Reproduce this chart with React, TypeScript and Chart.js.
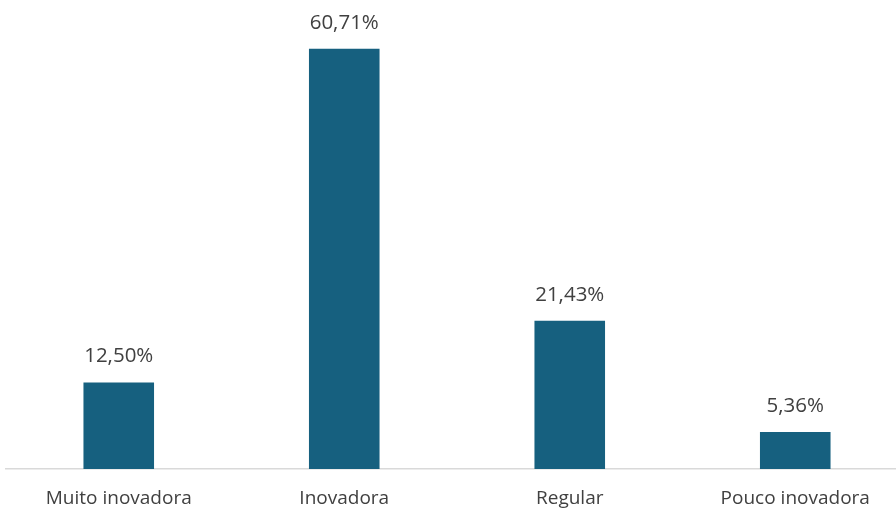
import React, { useEffect, useRef } from "react";
import { Chart, registerables } from "chart.js";

Chart.register(...registerables);

const categories = ["Muito inovadora", "Inovadora", "Regular", "Pouco inovadora"];
const values = [12.5, 60.71, 21.43, 5.36];
const valueLabels = ["12,50%", "60,71%", "21,43%", "5,36%"];

const barColor = "#16607F";
const textColor = "#404040";
const fontFamily = "'Open Sans', 'Liberation Sans', sans-serif";

const dataLabelPlugin = {
  id: "dataLabels",
  afterDatasetsDraw(chart: any) {
    const ctx = chart.ctx;
    const meta = chart.getDatasetMeta(0);
    ctx.save();
    ctx.fillStyle = textColor;
    ctx.font = `20.5px ${fontFamily}`;
    ctx.textAlign = "center";
    ctx.textBaseline = "alphabetic";
    meta.data.forEach((bar: any, i: number) => {
      ctx.fillText(valueLabels[i], bar.x, bar.y - 20);
    });
    ctx.restore();
  },
};

export default function App() {
  const ref = useRef<HTMLCanvasElement | null>(null);
  useEffect(() => {
    if (!ref.current) return;
    const chart = new Chart(ref.current, {
      type: "bar",
      data: {
        labels: categories,
        datasets: [
          {
            data: values,
            backgroundColor: barColor,
            categoryPercentage: 1,
            barPercentage: 0.313,
          },
        ],
      },
      options: {
        animation: false,
        responsive: false,
        maintainAspectRatio: false,
        layout: { padding: { left: 6, right: 6, top: 19, bottom: 3 } },
        plugins: { legend: { display: false }, tooltip: { enabled: false } },
        scales: {
          x: {
            grid: { display: false, drawTicks: false },
            border: { display: true, color: "#D9D9D9", width: 1.5 },
            ticks: {
              color: textColor,
              font: { family: fontFamily, size: 19 },
              padding: 18,
              maxRotation: 0,
              autoSkip: false,
            },
            afterFit: (scale: any) => {
              scale.height = 39;
            },
          },
          y: { display: false, min: 0, max: 65 },
        },
      },
      plugins: [dataLabelPlugin],
    });
    return () => chart.destroy();
  }, []);
  return (
    <div style={{ position: "fixed", left: 0, top: 0, width: 896, height: 511, overflow: "hidden", background: "#fff" }}>
      <canvas ref={ref} width={914} height={511} style={{ display: "block" }} />
    </div>
  );
}
